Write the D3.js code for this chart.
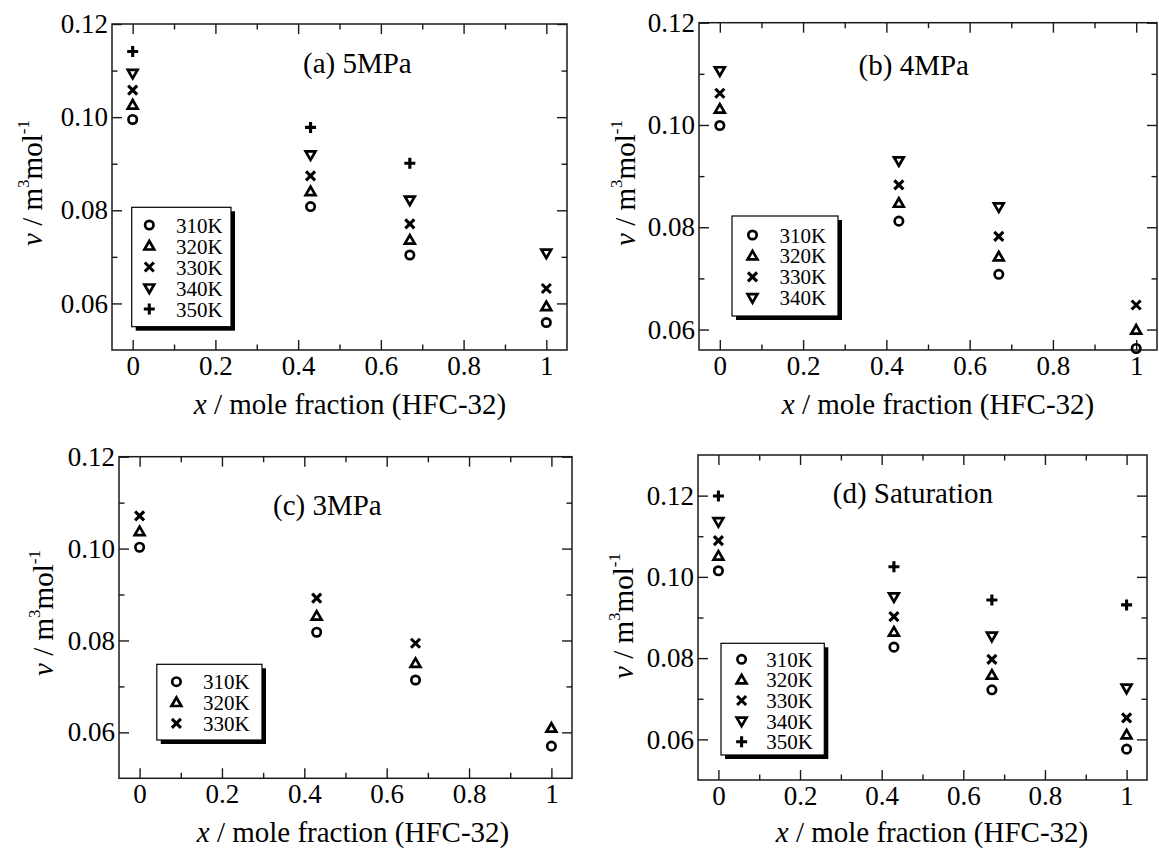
<!DOCTYPE html>
<html>
<head>
<meta charset="utf-8">
<script src="https://cdn.jsdelivr.net/npm/d3@7"></script>
<style>
  html, body { margin: 0; padding: 0; background: #fff; }
  svg { display: block; }
  text { font-family: "Liberation Serif", "Times New Roman", serif; fill: #000; }
</style>
</head>
<body>
<svg id="chart" width="1159" height="852"></svg>
<script>
// ---------------- DATA ----------------
const xValues = [0, 0.43, 0.67, 1];                       // mole fraction of HFC-32
const temperatures = ["310K", "320K", "330K", "340K", "350K"];
const markerKinds = ["circle", "triangleUp", "cross", "triangleDown", "plus"];
const panelTitles = ["(a) 5MPa", "(b) 4MPa", "(c) 3MPa", "(d) Saturation"];
const xTickValues = [0, 0.2, 0.4, 0.6, 0.8, 1];
const xTickLabels = ["0", "0.2", "0.4", "0.6", "0.8", "1"];
const yTickValues = [0.06, 0.08, 0.10, 0.12];
const yTickLabels = ["0.06", "0.08", "0.10", "0.12"];

// v / m3 mol-1 ; one array per temperature (310K, 320K, 330K, 340K, 350K), null = no point
const v5MPa = [
  [0.0995, 0.0808, 0.0704, 0.0559],
  [0.1026, 0.0840, 0.0736, 0.0593],
  [0.1058, 0.0874, 0.0771, 0.0632],
  [0.1094, 0.0919, 0.0822, 0.0708],
  [0.1141, 0.0978, 0.0901, null]
];
const v4MPa = [
  [0.0999, 0.0812, 0.0708, 0.0563],
  [0.1031, 0.0847, 0.0742, 0.0599],
  [0.1062, 0.0883, 0.0782, 0.0648],
  [0.1106, 0.0930, 0.0840, null]
];
const v3MPa = [
  [0.1003, 0.0818, 0.0714, 0.0570],
  [0.1037, 0.0853, 0.0750, 0.0609],
  [0.1071, 0.0892, 0.0794, null]
];
const vSat = [
  [0.1015, 0.0827, 0.0722, 0.0576],
  [0.1051, 0.0864, 0.0758, 0.0611],
  [0.1089, 0.0902, 0.0797, 0.0653],
  [0.1136, 0.0951, 0.0854, 0.0726],
  [0.1199, 0.1025, 0.0943, 0.0931]
];
const yDomains = [[0.05, 0.12], [0.056, 0.12], [0.05, 0.12], [0.05, 0.13]];
const panelData = [v5MPa, v4MPa, v3MPa, vSat];

// ---------------- LAYOUT ----------------
const layout = [
  { left: 112, right: 567,  top: 24,    bottom: 350,   title: [303, 73],   ylab: [42, 183],  xlab: [350, 414], legend: { x: 131.7, y: 207.3, w: 99.3, h: 119.4, sym: 149.3, txt: 176, row0: 225, dy: 21 } },
  { left: 699, right: 1157, top: 22.7,  bottom: 350,   title: [858.6, 75], ylab: [635, 183], xlab: [938, 414], legend: { x: 732,   y: 216,   w: 106,   h: 100,   sym: 752.5, txt: 779.5, row0: 235, dy: 20.9 } },
  { left: 119, right: 572,  top: 456.7, bottom: 778.3, title: [273, 515],  ylab: [53, 613],  xlab: [353, 842], legend: { x: 156.8, y: 664.3, w: 105.2, h: 75.7,  sym: 176.4, txt: 203, row0: 681.7, dy: 20.8 } },
  { left: 698, right: 1147, top: 455,   bottom: 780,   title: [832.8, 503], ylab: [633, 616], xlab: [932, 842], legend: { x: 721,   y: 643.3, w: 103.3, h: 111.7, sym: 741.6, txt: 766.3, row0: 659.3, dy: 20.6 } }
];

const svg = d3.select("#chart");
const AXIS_COLOR = "#1a1a1a";

function markerPath(kind) {
  const p = d3.path();
  if (kind === "circle") {
    p.moveTo(4.2, 0); p.arc(0, 0, 4.2, 0, 2 * Math.PI);
  } else if (kind === "triangleUp") {
    p.moveTo(0, -5.0); p.lineTo(4.9, 3.5); p.lineTo(-4.9, 3.5); p.closePath();
  } else if (kind === "triangleDown") {
    p.moveTo(0, 5.0); p.lineTo(4.9, -3.5); p.lineTo(-4.9, -3.5); p.closePath();
  } else if (kind === "cross") {
    p.moveTo(-4.5, -4.5); p.lineTo(4.5, 4.5); p.moveTo(4.5, -4.5); p.lineTo(-4.5, 4.5);
  } else if (kind === "plus") {
    p.moveTo(-5.5, 0); p.lineTo(5.5, 0); p.moveTo(0, -5.5); p.lineTo(0, 5.5);
  }
  return p.toString();
}
function markerStroke(kind) {
  return (kind === "cross" || kind === "plus") ? 3.1 : 2.7;
}

layout.forEach((L, pi) => {
  const g = svg.append("g");
  const x = d3.scaleLinear().domain([-0.05, 1.05]).range([L.left, L.right]);
  const y = d3.scaleLinear().domain(yDomains[pi]).range([L.bottom, L.top]);
  const minorX = d3.range(0.1, 1.0, 0.2).map(v => +v.toFixed(2));
  const yMinorAll = [0.07, 0.09, 0.11];
  const minorY = yMinorAll.filter(v => v > yDomains[pi][0] && v < yDomains[pi][1]);
  const majorY = yTickValues.filter(v => v >= yDomains[pi][0] - 1e-9 && v <= yDomains[pi][1] + 1e-9);

  const style = sel => {
    sel.select(".domain").remove();
    sel.selectAll("line").attr("stroke", AXIS_COLOR).attr("stroke-width", 1.4);
  };

  // bottom axis with labels
  g.append("g").attr("transform", `translate(0,${L.bottom})`)
    .call(d3.axisBottom(x).tickValues(xTickValues).tickSize(-10).tickPadding(6)
      .tickFormat((d, i) => xTickLabels[i]))
    .call(style)
    .call(s => s.selectAll("text").attr("font-size", 27).attr("font-family", "Liberation Serif, Times New Roman, serif").attr("fill", "#000"));
  g.append("g").attr("transform", `translate(0,${L.bottom})`)
    .call(d3.axisBottom(x).tickValues(minorX).tickSize(-5.5).tickFormat(""))
    .call(style);
  // top axis
  g.append("g").attr("transform", `translate(0,${L.top})`)
    .call(d3.axisTop(x).tickValues(xTickValues).tickSize(-10).tickFormat(""))
    .call(style);
  g.append("g").attr("transform", `translate(0,${L.top})`)
    .call(d3.axisTop(x).tickValues(minorX).tickSize(-5.5).tickFormat(""))
    .call(style);
  // left axis with labels
  g.append("g").attr("transform", `translate(${L.left},0)`)
    .call(d3.axisLeft(y).tickValues(majorY).tickSize(-10).tickPadding(4)
      .tickFormat(d => yTickLabels[yTickValues.indexOf(d)]))
    .call(style)
    .call(s => s.selectAll("text").attr("font-size", 27).attr("font-family", "Liberation Serif, Times New Roman, serif").attr("fill", "#000"));
  g.append("g").attr("transform", `translate(${L.left},0)`)
    .call(d3.axisLeft(y).tickValues(minorY).tickSize(-5.5).tickFormat(""))
    .call(style);
  // right axis
  g.append("g").attr("transform", `translate(${L.right},0)`)
    .call(d3.axisRight(y).tickValues(majorY).tickSize(-10).tickFormat(""))
    .call(style);
  g.append("g").attr("transform", `translate(${L.right},0)`)
    .call(d3.axisRight(y).tickValues(minorY).tickSize(-5.5).tickFormat(""))
    .call(style);

  // frame
  g.append("rect")
    .attr("x", L.left).attr("y", L.top)
    .attr("width", L.right - L.left).attr("height", L.bottom - L.top)
    .attr("fill", "none").attr("stroke", AXIS_COLOR).attr("stroke-width", 1.5);

  // data points
  const series = panelData[pi];
  series.forEach((vals, si) => {
    const pts = vals.map((v, i) => ({ x: xValues[i], v })).filter(d => d.v !== null);
    g.selectAll(null).data(pts).enter().append("path")
      .attr("transform", d => `translate(${x(d.x)},${y(d.v)})`)
      .attr("d", markerPath(markerKinds[si]))
      .attr("fill", "none").attr("stroke", "#000")
      .attr("stroke-width", markerStroke(markerKinds[si]));
  });

  // panel title
  g.append("text").attr("x", L.title[0]).attr("y", L.title[1])
    .attr("font-size", 29).text(panelTitles[pi]);

  // y-axis title
  const yl = g.append("text")
    .attr("transform", `translate(${L.ylab[0]},${L.ylab[1]}) rotate(-90)`)
    .attr("text-anchor", "middle").attr("font-size", 29);
  yl.append("tspan").attr("font-style", "italic").text("v");
  yl.append("tspan").text(" / m");
  yl.append("tspan").attr("font-size", 17).attr("dy", -13).text("3");
  yl.append("tspan").attr("dy", 13).text("mol");
  yl.append("tspan").attr("font-size", 17).attr("dy", -13).text("-1");

  // x-axis title
  const xl = g.append("text").attr("x", L.xlab[0]).attr("y", L.xlab[1])
    .attr("text-anchor", "middle").attr("font-size", 29);
  xl.append("tspan").attr("font-style", "italic").text("x");
  xl.append("tspan").text(" / mole fraction (HFC-32)");

  // legend
  const lg = L.legend;
  const nSeries = series.length;
  g.append("rect").attr("x", lg.x + 4).attr("y", lg.y + 4)
    .attr("width", lg.w).attr("height", lg.h).attr("fill", "#000");
  g.append("rect").attr("x", lg.x).attr("y", lg.y)
    .attr("width", lg.w).attr("height", lg.h)
    .attr("fill", "#fff").attr("stroke", "#000").attr("stroke-width", 1.2);
  for (let si = 0; si < nSeries; si++) {
    const ry = lg.row0 + si * lg.dy;
    g.append("path").attr("transform", `translate(${lg.sym},${ry})`)
      .attr("d", markerPath(markerKinds[si]))
      .attr("fill", "none").attr("stroke", "#000")
      .attr("stroke-width", markerStroke(markerKinds[si]));
    g.append("text").attr("x", lg.txt).attr("y", ry + 7.5)
      .attr("font-size", 21).text(temperatures[si]);
  }
});
</script>
</body>
</html>
